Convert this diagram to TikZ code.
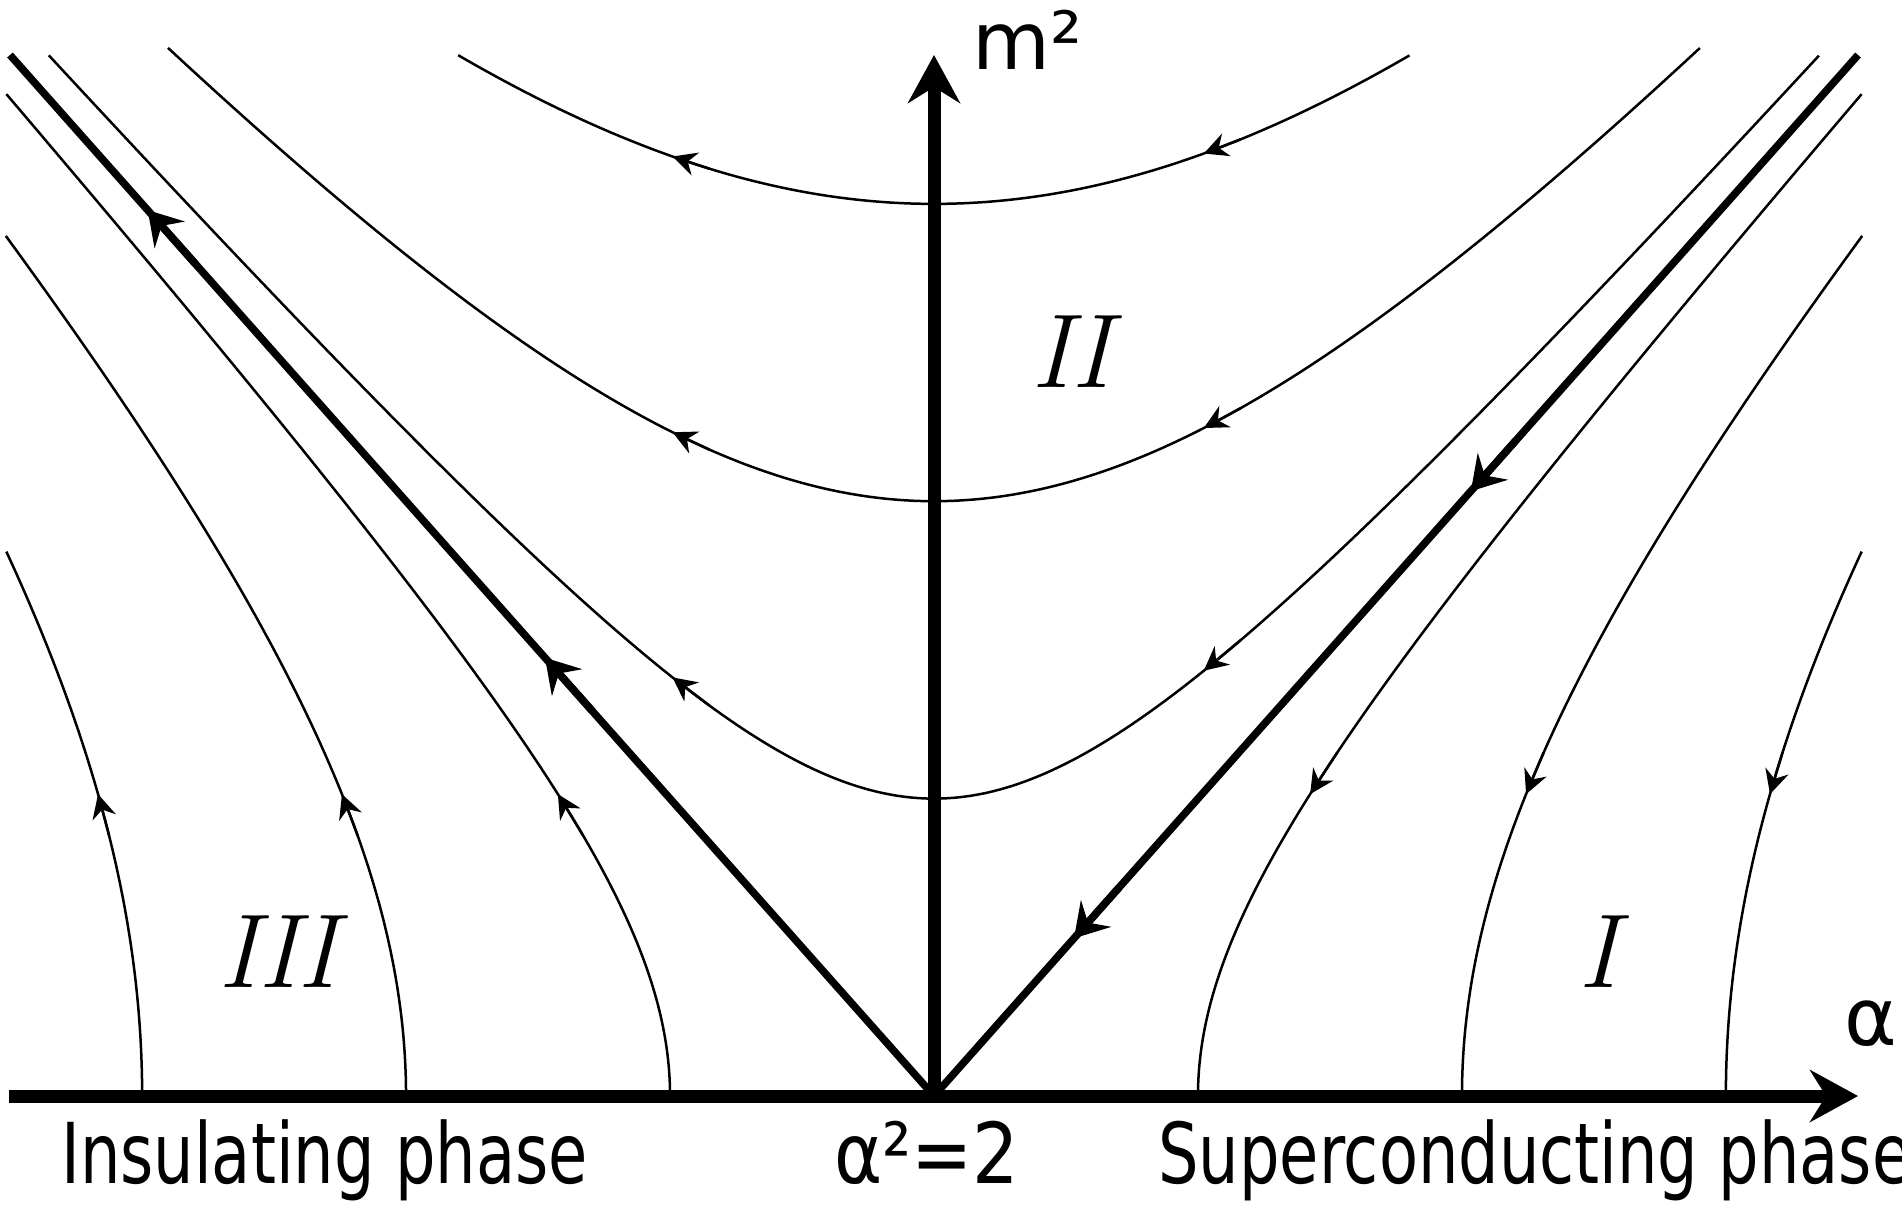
\documentclass[tikz,border=0pt]{standalone}
\usepackage{fontspec}
\usetikzlibrary{arrows.meta,calc}
\newfontfamily\labfont{DejaVu Sans}
\newfontfamily\labcond[FakeStretch=0.76]{DejaVu Sans}
\newfontfamily\labcondb[FakeStretch=0.87]{DejaVu Sans}
\begin{document}
\begin{tikzpicture}[x=1pt,y=-1pt,
  flow/.style={line width=2.5pt},
  sepline/.style={line width=7.5pt},
  axisline/.style={line width=13pt},
  smalltip/.style={-{Stealth[length=24pt,width=24pt,inset=8pt]}, line width=2.5pt},
  bigtip/.style={-{Stealth[length=33pt,width=40pt,inset=12pt]}, line width=7.5pt},
  axistip/.style={-{Stealth[length=48pt,width=52pt,inset=16pt]}},
  toplab/.style={anchor=base west, inner sep=0pt, font=\labfont\fontsize{80}{80}\selectfont},
  botlab/.style={anchor=base west, inner sep=0pt, font=\labcond\fontsize{84}{84}\selectfont},
  roman/.style={inner sep=0pt, font=\fontsize{105}{105}\selectfont\itshape}]
\useasboundingbox (0,0) rectangle (1902,1204);
\def\ox{934}\def\oy{1096}\def\sx{924}\def\sy{1041}
% region II flow lines (right to left)
\foreach \c/\ue in {0.857/0.515, 0.5714/0.829, 0.2857/0.958}{
  \draw[flow] plot[domain=-\ue:\ue, samples=120, smooth] ({\ox+\sx*\x},{\oy-\sy*sqrt(\x*\x+\c*\c)});
  \draw[smalltip] ({\ox+\sx*0.332},{\oy-\sy*sqrt(0.332*0.332+\c*\c)}) -- ({\ox+\sx*0.292},{\oy-\sy*sqrt(0.292*0.292+\c*\c)});
  \draw[smalltip] ({\ox-\sx*0.243},{\oy-\sy*sqrt(0.243*0.243+\c*\c)}) -- ({\ox-\sx*0.283},{\oy-\sy*sqrt(0.283*0.283+\c*\c)});
}
% regions I and III flow lines
\foreach \d/\ve in {0.2857/0.9636, 0.5714/0.8267, 0.857/0.5247}{
  \draw[flow] plot[domain=0:\ve, samples=120, smooth] ({\ox+\sx*sqrt(\x*\x+\d*\d)},{\oy-\sy*\x});
  \draw[flow] plot[domain=0:\ve, samples=120, smooth] ({\ox-\sx*sqrt(\x*\x+\d*\d)},{\oy-\sy*\x});
  \draw[smalltip] ({\ox+\sx*sqrt(0.33*0.33+\d*\d)},{\oy-\sy*0.33}) -- ({\ox+\sx*sqrt(0.29*0.29+\d*\d)},{\oy-\sy*0.29});
  \draw[smalltip] ({\ox-\sx*sqrt(0.25*0.25+\d*\d)},{\oy-\sy*0.25}) -- ({\ox-\sx*sqrt(0.29*0.29+\d*\d)},{\oy-\sy*0.29});
}
% separatrices
\coordinate (O) at (934,1096);
\coordinate (TR) at (1858,55);
\coordinate (TL) at (10,55);
\draw[sepline] (O) -- (TR);
\draw[sepline] (O) -- (TL);
\draw[bigtip] ($(O)!0.63!(TR)$) -- ($(O)!0.581!(TR)$);
\draw[bigtip] ($(O)!0.20!(TR)$) -- ($(O)!0.1515!(TR)$);
\draw[bigtip] ($(O)!0.80!(TL)$) -- ($(O)!0.851!(TL)$);
\draw[bigtip] ($(O)!0.37!(TL)$) -- ($(O)!0.421!(TL)$);
% axes
\coordinate (XL) at (9,1096);
\coordinate (XR) at (1858,1096);
\coordinate (YT) at (934,55);
\draw[axisline, axistip] (XL) -- (XR);
\draw[axisline, axistip] (O) -- (YT);
% labels
\node[toplab] (m2) at (972,70) {m²};
\node[toplab] (alpha) at (1844,1045) {α};
\node[botlab] (ins) at (61,1183) {Insulating phase};
\node[botlab, font=\labcondb\fontsize{84}{84}\selectfont] (eq) at (834,1183) {α²=2};
\node[botlab] (sup) at (1158,1183) {Superconducting phase};
\node[roman] (r2) at (1071,352) {II};
\node[roman] (r3) at (278,952) {III};
\node[roman] (r1) at (1598,952) {I};
\end{tikzpicture}
\end{document}
